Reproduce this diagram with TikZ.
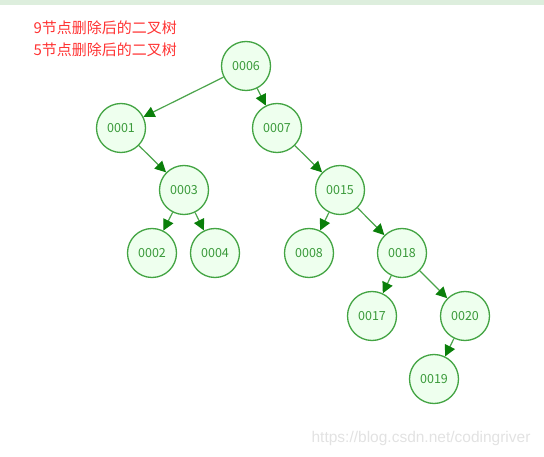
\documentclass[tikz,border=0pt]{standalone}
\usepackage{fontspec}
\setmainfont{Liberation Sans}
\newfontfamily\cjkfont{Noto Sans CJK SC}
\usetikzlibrary{arrows.meta}

\definecolor{nodofondo}{HTML}{EEFFEE}
\definecolor{nodoborde}{HTML}{43A443}
\definecolor{nodotexto}{HTML}{3A9A3A}
\definecolor{arista}{HTML}{4AA34A}
\definecolor{punta}{HTML}{0A7F0A}
\definecolor{franja}{HTML}{DDEEDD}
\definecolor{marca}{HTML}{E2E2E2}

\tikzset{
  nodo/.style={circle, draw=nodoborde, fill=nodofondo, line width=1.3pt,
    minimum size=49pt, inner sep=0pt, text=nodotexto,
    font=\cjkfont\fontsize{12.5}{12.5}\selectfont},
  rama/.style={draw=arista, line width=1.2pt,
    -{Triangle[length=11pt,width=11pt,color=punta,fill=punta]}},
}

\begin{document}
\begin{tikzpicture}[x=1pt,y=-1pt]
    % Fija el marco del dibujo y la franja superior.
    \useasboundingbox (0,0) rectangle (544,457);
    \fill[franja] (0,0) rectangle (544,5);

    % Titulos en rojo.
    \node[anchor=west, text=red!80, font=\cjkfont\fontsize{15}{15}\selectfont]
        (tituloA) at (30,28) {9节点删除后的二叉树};
    \node[anchor=west, text=red!80, font=\cjkfont\fontsize{15}{15}\selectfont]
        (tituloB) at (30,50) {5节点删除后的二叉树};

    % Define los nodos del arbol.
    \node[nodo] (n6)  at (246,66)  {0006};
    \node[nodo] (n1)  at (121,128) {0001};
    \node[nodo] (n7)  at (277,128) {0007};
    \node[nodo] (n3)  at (184,190) {0003};
    \node[nodo] (n15) at (340,190) {0015};
    \node[nodo] (n2)  at (152,253) {0002};
    \node[nodo] (n4)  at (215,253) {0004};
    \node[nodo] (n8)  at (309,253) {0008};
    \node[nodo] (n18) at (402,253) {0018};
    \node[nodo] (n17) at (372,316) {0017};
    \node[nodo] (n20) at (465,316) {0020};
    \node[nodo] (n19) at (434,379) {0019};

    % Dibuja las ramas.
    \foreach \a/\b in {n6/n1, n6/n7, n1/n3, n7/n15, n3/n2, n3/n4,
                       n15/n8, n15/n18, n18/n17, n18/n20, n20/n19}
        \draw[rama] (\a) -- (\b);

    % Marca de agua.
    \node[anchor=east, text=marca, font=\fontsize{15.5}{15.5}\selectfont]
        (marca) at (534,438) {https://blog.csdn.net/codingriver};
\end{tikzpicture}
\end{document}
